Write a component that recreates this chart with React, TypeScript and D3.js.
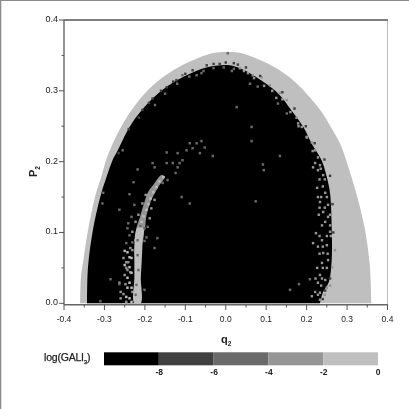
import React from "react";
import * as d3 from "d3";

type P = [number, number];

const xTicks = [-0.4, -0.3, -0.2, -0.1, 0, 0.1, 0.2, 0.3, 0.4];
const yTicks = [0, 0.1, 0.2, 0.3, 0.4];
const xMinor = [-0.35, -0.25, -0.15, -0.05, 0.05, 0.15, 0.25, 0.35];
const yMinor = [0.05, 0.15, 0.25, 0.35];
const legendStops = [-10, -8, -6, -4, -2, 0];
const legendLabels = [-8, -6, -4, -2, 0];
const legendColors = ["#000000", "#404040", "#6a6a6a", "#959595", "#bfbfbf"];

// Energy-allowed region, outer boundary (q2, p2)
const outerEdge: P[] = [
  [-0.36, 0], [-0.358, 0.0375], [-0.352, 0.061], [-0.339, 0.108], [-0.321, 0.155], [-0.308, 0.178],
  [-0.296, 0.202], [-0.28, 0.225], [-0.259, 0.249], [-0.234, 0.272], [-0.201, 0.296], [-0.156, 0.319],
  [-0.118, 0.333], [-0.065, 0.347], [-0.023, 0.354], [0.03, 0.354], [0.07, 0.347], [0.122, 0.333],
  [0.158, 0.319], [0.2, 0.296], [0.235, 0.272], [0.26, 0.249], [0.283, 0.225], [0.298, 0.202],
  [0.311, 0.178], [0.323, 0.155], [0.343, 0.108], [0.355, 0.061], [0.358, 0.0375], [0.36, 0],
];
// Boundary of the chaotic (black) region
const innerEdge: P[] = [
  [-0.343, 0], [-0.342, 0.0375], [-0.339, 0.061], [-0.327, 0.108], [-0.308, 0.155], [-0.295, 0.178],
  [-0.28, 0.202], [-0.267, 0.216], [-0.238, 0.249], [-0.209, 0.272], [-0.168, 0.296], [-0.135, 0.31],
  [-0.089, 0.324], [-0.048, 0.333], [0.01, 0.336], [0.042, 0.33], [0.076, 0.319], [0.13, 0.296],
  [0.163, 0.272], [0.192, 0.249], [0.213, 0.225], [0.237, 0.202], [0.25, 0.178], [0.258, 0.155],
  [0.262, 0.108], [0.262, 0.061], [0.255, 0.03], [0.24, 0.015], [0.233, 0],
];
// Stable arc: lower bright part and upper darker part
const bandLower: P[] = [
  [-0.226, 0], [-0.226, 0.036], [-0.226, 0.058], [-0.226, 0.082], [-0.219, 0.106],
  [-0.204, 0.106], [-0.206, 0.082], [-0.208, 0.058], [-0.21, 0.036], [-0.21, 0],
];
const bandUpper: P[] = [
  [-0.221, 0.1], [-0.211, 0.124], [-0.201, 0.143], [-0.192, 0.157], [-0.178, 0.168], [-0.159, 0.181],
  [-0.151, 0.179], [-0.167, 0.164], [-0.178, 0.153], [-0.186, 0.143], [-0.196, 0.124], [-0.204, 0.1],
];
const bandLightSpecks: P[] = [
  [-0.223, 0.089], [-0.216, 0.096], [-0.213, 0.106], [-0.208, 0.115], [-0.203, 0.123], [-0.196, 0.132],
  [-0.191, 0.14], [-0.186, 0.148], [-0.179, 0.157], [-0.171, 0.164], [-0.164, 0.172], [-0.154, 0.178],
  [-0.25, 0.074], [-0.243, 0.072], [-0.238, 0.065], [-0.25, 0.054], [-0.238, 0.051],
  [-0.233, 0.043], [-0.243, 0.036], [-0.238, 0.029], [-0.243, 0.022], [-0.233, 0.022],
  [-0.246, 0.009], [-0.238, 0.007], [-0.233, 0.002], [-0.233, 0.064],
];
const bandSpecks: P[] = [
  [-0.246, 0.05], [-0.263, 0.029], [-0.26, 0.016], [-0.26, 0.007], [-0.246, 0.002], [-0.25, 0.04],
  [-0.253, 0.064], [-0.246, 0.058], [-0.231, 0.075], [-0.236, 0.044], [-0.248, 0.027], [-0.231, 0.016],
  [-0.253, 0.013], [-0.243, 0.047], [-0.241, 0.058], [-0.236, 0.078], [-0.231, 0.101], [-0.223, 0.115],
  [-0.216, 0.125], [-0.188, 0.12], [-0.184, 0.134], [-0.176, 0.146], [-0.198, 0.153], [-0.206, 0.141],
];
const bandDarkSpecks: P[] = [
  [-0.218, 0.068], [-0.221, 0.026], [-0.216, 0.047], [-0.223, 0.012], [-0.218, 0.089], [-0.211, 0.109],
];
const scatterSpecks: P[] = [
  [-0.176, 0.078], [-0.201, 0.019], [-0.238, 0.154], [-0.226, 0.139], [-0.233, 0.122], [-0.241, 0.113],
  [-0.243, 0.106], [-0.238, 0.096], [-0.201, 0.106], [-0.193, 0.108], [-0.196, 0.093], [-0.201, 0.088],
  [-0.169, 0.092], [-0.109, 0.15], [-0.246, 0.085], [-0.231, 0.086], [-0.218, 0.189], [-0.228, 0.171],
  [-0.263, 0.132], [-0.089, 0.141], [-0.285, 0.034], [-0.31, 0.003], [-0.263, 0.027], [-0.305, 0.141],
  [-0.303, 0.156], [-0.156, 0.17], [-0.124, 0.184], [-0.144, 0.174], [-0.146, 0.198], [-0.131, 0.198],
  [-0.114, 0.198], [-0.107, 0.202], [-0.176, 0.192], [-0.181, 0.198], [-0.146, 0.213], [-0.119, 0.212],
  [-0.119, 0.192], [-0.097, 0.216], [-0.082, 0.219], [-0.072, 0.226], [-0.06, 0.229], [-0.052, 0.22],
  [-0.064, 0.212], [-0.032, 0.208], [-0.089, 0.226], [-0.255, 0.216], [0.027, 0.277], [0.064, 0.249],
  [0.064, 0.229], [0.134, 0.208], [0.092, 0.196], [0.094, 0.188], [0.015, 0.328], [0.06, 0.31],
  [0.079, 0.306], [0.129, 0.282], [0.151, 0.268], [0.074, 0.144], [0.181, 0.027], [0.159, 0.019],
  [0.208, 0.034], [-0.072, 0.322], [-0.107, 0.322], [-0.06, 0.325], [0.005, 0.353],
];
const edgeSpecks: P[] = [
  [0.221, 0.198], [0.228, 0.188], [0.241, 0.181], [0.226, 0.163], [0.246, 0.156], [0.233, 0.143],
  [0.253, 0.139], [0.241, 0.129], [0.253, 0.122], [0.246, 0.115], [0.223, 0.099], [0.238, 0.089],
  [0.216, 0.085], [0.25, 0.082], [0.258, 0.101], [0.241, 0.071], [0.253, 0.061], [0.238, 0.057],
  [0.263, 0.051], [0.233, 0.04], [0.246, 0.033], [0.228, 0.029], [0.221, 0.016], [0.233, 0.015],
  [0.213, 0.01], [0.25, 0.022], [0.27, 0.075], [0.233, 0.005], [0.179, 0.254], [0.188, 0.249],
  [0.201, 0.234], [0.221, 0.216], [0.213, 0.227], [0.228, 0.206], [0.233, 0.195], [0.216, 0.192],
  [0.134, 0.297], [0.109, 0.308], [0.089, 0.319], [0.067, 0.322], [0.055, 0.325], [0.035, 0.332],
  [0.151, 0.287], [0.235, 0.19], [0.245, 0.175], [0.232, 0.175], [0.24, 0.165], [0.25, 0.15],
  [0.236, 0.15], [0.228, 0.15], [0.245, 0.135], [0.232, 0.135], [0.258, 0.125], [0.23, 0.125],
  [0.238, 0.11], [0.258, 0.11], [0.25, 0.095], [0.232, 0.095], [0.26, 0.095], [0.24, 0.08],
  [0.228, 0.08], [0.252, 0.07], [0.232, 0.07], [0.25, 0.05], [0.24, 0.05], [0.226, 0.05],
  [0.238, 0.035], [0.222, 0.035], [0.236, 0.025], [0.258, 0.025], [0.228, 0.012], [0.245, 0.012],
  [0.045, 0.328], [0.07, 0.318], [0.095, 0.307], [0.115, 0.3], [0.14, 0.288], [0.16, 0.27],
  [0.18, 0.25], [0.2, 0.235], [0.215, 0.215], [0.175, 0.262], [0.125, 0.29],
];
const darkEdgeSpecks: P[] = [
  [-0.122, 0.315], [-0.146, 0.305], [-0.181, 0.289], [-0.206, 0.273], [-0.082, 0.329], [-0.047, 0.336],
  [-0.015, 0.338], [0.02, 0.339], [0.05, 0.333], [0.085, 0.321], [0.14, 0.298], [0.17, 0.275],
  [0.198, 0.25], [0.22, 0.226], [0.244, 0.203], [0.258, 0.18], [0.264, 0.14], [0.266, 0.1],
  [0.258, 0.035], [0.246, 0.018], [0.24, 0.006], [-0.1, 0.324], [-0.13, 0.313], [-0.16, 0.3],
  [-0.19, 0.283], [-0.215, 0.262], [-0.24, 0.246], [-0.265, 0.212], [-0.03, 0.338], [0, 0.34],
  [0.03, 0.337],
];
const rimSpecks: P[] = [
  [-0.09, 0.32], [-0.055, 0.328], [-0.03, 0.332], [-0.12, 0.31], [-0.15, 0.296], [-0.175, 0.28],
  [-0.005, 0.333], [0.02, 0.331],
];

const x = d3.scaleLinear().domain([-0.4, 0.4]).range([64, 387.5]);
const y = d3.scaleLinear().domain([0, 0.4]).range([303.3, 20]);
const legendX = d3.scaleLinear().domain([-10, 0]).range([104, 378]);
const color = d3.scaleThreshold<number, string>().domain([-8, -6, -4, -2]).range(legendColors);

const smooth = d3.line<P>().x((d) => x(d[0])).y((d) => y(d[1])).curve(d3.curveCatmullRom);
const smoothClosed = d3.line<P>().x((d) => x(d[0])).y((d) => y(d[1])).curve(d3.curveCatmullRomClosed);
const cellW = x(0.006) - x(0);
const cellH = y(0) - y(0.0035);

const font = "'Liberation Sans', Arial, sans-serif";

function Specks({ pts, value }: { pts: P[]; value: number }) {
  return (
    <g fill={color(value)}>
      {pts.map((d, i) => (
        <rect key={i} x={x(d[0]) - cellW / 2} y={y(d[1]) - cellH / 2} width={cellW} height={cellH} />
      ))}
    </g>
  );
}

export default function App() {
  return (
    <svg
      width={409}
      height={409}
      viewBox="0 0 409 409"
      style={{ position: "absolute", left: 0, top: 0, display: "block", background: "#fff" }}
      fontFamily={font}
    >
      <defs>
        <filter id="soft" filterUnits="userSpaceOnUse" x={0} y={0} width={409} height={409}>
          <feGaussianBlur stdDeviation={0.45} />
        </filter>
      </defs>
      <g filter="url(#soft)">
        <path d={(smooth(outerEdge) ?? "") + "Z"} fill={color(-1)} />
        <path d={(smooth(innerEdge) ?? "") + "Z"} fill={color(-9)} />
        <Specks pts={bandSpecks} value={-3} />
        <path d={smoothClosed(bandUpper) ?? ""} fill={color(-3)} />
        <path d={smoothClosed(bandLower) ?? ""} fill={color(-1)} />
        <Specks pts={bandLightSpecks} value={-1} />
        <Specks pts={bandDarkSpecks} value={-5} />
        <Specks pts={scatterSpecks} value={-4.5} />
        <Specks pts={edgeSpecks} value={-3} />
        <Specks pts={rimSpecks} value={-5} />
        <Specks pts={darkEdgeSpecks} value={-7} />

        {/* frame of the scan */}
        <line x1={0.5} x2={0.5} y1={0} y2={409} stroke="#8a8a8a" strokeWidth={1.5} />
        <line x1={0} x2={409} y1={0.5} y2={0.5} stroke="#8a8a8a" strokeWidth={1} />

        {/* axes */}
        <line x1={x(0.4)} x2={x(0.4)} y1={20} y2={304.7} stroke="#bdbdbd" strokeWidth={1} />
        <line x1={64} x2={388} y1={20} y2={20} stroke="#555" strokeWidth={1.4} />
        <line x1={64} x2={64} y1={19.5} y2={305} stroke="#666" strokeWidth={1.4} />
        <line x1={64} x2={388} y1={304.7} y2={304.7} stroke="#666" strokeWidth={1.4} />

        {xTicks.map((t) => (
          <g key={t}>
            <line x1={x(t)} x2={x(t)} y1={304.7} y2={310} stroke="#555" strokeWidth={1} />
            <text x={x(t)} y={322} textAnchor="middle" fontSize={8.5} fill="#222">
              {t.toFixed(1)}
            </text>
          </g>
        ))}
        {xMinor.map((t) => (
          <line key={t} x1={x(t)} x2={x(t)} y1={304.7} y2={307.5} stroke="#555" strokeWidth={1} />
        ))}
        {yTicks.map((t) => (
          <g key={t}>
            <line x1={59} x2={64} y1={y(t)} y2={y(t)} stroke="#555" strokeWidth={1} />
            <text x={58} y={y(t) + 2} textAnchor="end" fontSize={9} fill="#222">
              {t.toFixed(1)}
            </text>
          </g>
        ))}
        {yMinor.map((t) => (
          <line key={t} x1={61.5} x2={64} y1={y(t)} y2={y(t)} stroke="#555" strokeWidth={1} />
        ))}

        <text x={221} y={343} fontSize={11} fontWeight="bold" fill="#222">
          q<tspan fontSize={6.5} dy={2.5}>2</tspan>
        </text>
        <text transform="translate(37,177) rotate(-90)" fontSize={11} fontWeight="bold" fill="#222">
          P<tspan fontSize={6.5} dy={2.5}>2</tspan>
        </text>

        {/* legend */}
        {legendColors.map((c, i) => (
          <rect
            key={c}
            x={legendX(legendStops[i])}
            y={352.3}
            width={legendX(legendStops[i + 1]) - legendX(legendStops[i])}
            height={13}
            fill={c}
          />
        ))}
        {legendLabels.map((v) => (
          <text key={v} x={legendX(v) + (v === 0 ? 0 : 0.5)} y={374.5} textAnchor="middle" fontSize={8.5} fontWeight="bold" fill="#222">
            {v}
          </text>
        ))}
        <text x={44} y={360.5} fontSize={10.5} fill="#222" stroke="#222" strokeWidth={0.25} letterSpacing={-0.2}>
          log(GALI<tspan fontSize={6} dy={3}>3</tspan>
          <tspan dy={-3}>)</tspan>
        </text>
      </g>
    </svg>
  );
}
